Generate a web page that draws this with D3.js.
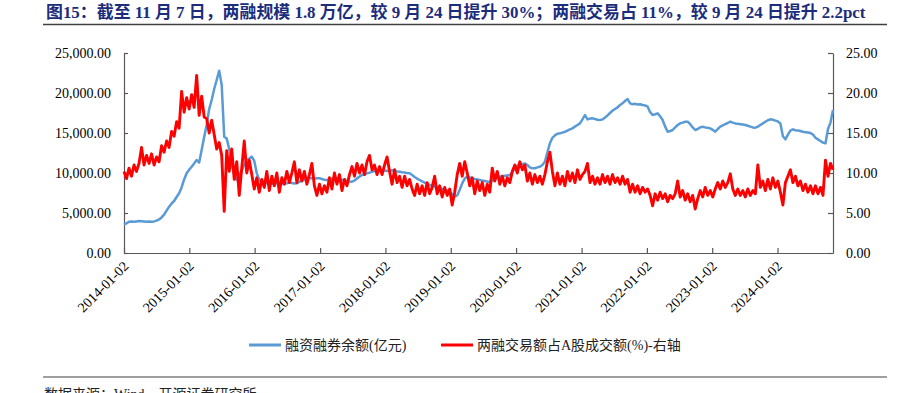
<!DOCTYPE html>
<html><head><meta charset="utf-8">
<script src="https://cdn.jsdelivr.net/npm/d3@7"></script>
<style>body{margin:0;background:#fff} svg{display:block}</style>
</head><body><svg id="c" width="899" height="393"></svg>
<script>
const titleText = "图15：截至 11 月 7 日，两融规模 1.8 万亿，较 9 月 24 日提升 30%；两融交易占 11%，较 9 月 24 日提升 2.2pct";
const sourceText = "数据来源：Wind、开源证券研究所";
const seriesNames = ["融资融券余额(亿元)", "两融交易额占A股成交额(%)-右轴"];
const startDate = "2014-01-02";
const endDate = "2024-11-07";
const stepDays = 14;
const xTickLabels = ["2014-01-02","2015-01-02","2016-01-02","2017-01-02","2018-01-02","2019-01-02","2020-01-02","2021-01-02","2022-01-02","2023-01-02","2024-01-02"];
const leftTicks = [0,5000,10000,15000,20000,25000];
const rightTicks = [0,5,10,15,20,25];

// 融资融券余额(亿元), one value every 14 days from startDate
const marginBalance = [3590,3700,3900,3950,3900,3950,4000,3980,3950,3920,
 3950,3910,3950,4050,4200,4450,4800,5300,5790,6200,
 6500,7000,7460,8200,9200,9960,10400,10790,11200,11625,
 11300,12875,14500,16000,18000,19125,20500,21625,22790,21000,
 14540,14300,13000,11000,9800,9125,9700,10375,11000,11625,
 11800,12040,11500,9960,9125,8900,8800,8700,8710,8650,
 8700,8750,8700,8650,8700,8710,8800,8750,8700,8710,
 8900,9050,9200,9300,9340,9350,9300,9350,9340,9250,
 9150,9125,9200,9300,9350,9340,9250,9150,9050,9000,
 8950,8920,9050,9300,9550,9750,9850,9950,10050,10160,
 10250,10300,10300,10350,10300,10250,10300,10350,10300,10200,
 10160,10100,10050,10000,9960,9750,9500,9300,9125,8950,
 8800,8650,8500,8400,8300,8200,8100,8000,7900,7800,
 7600,7400,7100,7200,7900,8700,9300,9540,9450,9330,
 9250,9200,9125,9050,9000,8950,8920,9050,9200,9400,
 9540,9600,9650,9700,9750,10100,10600,10900,11000,11100,
 11200,11000,10700,10580,10600,10700,10790,11000,11400,12600,
 13710,14400,14700,14900,14960,15050,15150,15300,15450,15580,
 15800,16000,16200,16700,17250,16700,16800,16830,16750,16650,
 16625,16700,16950,17200,17500,17800,18000,18200,18500,18710,
 19000,19250,18700,18600,18650,18550,18600,18500,18450,18300,
 17600,17250,17350,17460,17100,16625,15800,15160,15250,15375,
 15700,16000,16200,16300,16400,16410,16100,15700,15375,15500,
 15700,15790,15700,15650,15580,15400,15160,15500,15790,15950,
 16100,16250,16410,16300,16200,16150,16100,16050,16000,15900,
 15800,15700,15660,15800,16000,16200,16400,16600,16710,16650,
 16550,16450,16200,14600,14210,14800,15300,15460,15350,15300,
 15250,15150,15100,15050,15000,14800,14400,14200,14000,13800,
 13710,15500,16300,17875];

// 两融交易额占A股成交额(%), same dates
const tradeShare = [10.2,9.3,10.6,9.6,11.0,10.2,11.2,13.2,11.0,12.2,
 11.2,12.4,11.0,12.0,11.4,13.4,12.6,14.0,13.2,15.2,
 14.6,16.4,15.6,20.2,17.6,19.4,18.0,19.8,18.2,22.2,
 17.2,19.6,17.0,16.8,15.0,16.6,14.8,13.0,13.8,12.2,
 5.2,12.8,10.2,13.0,9.2,11.4,7.2,10.6,14.0,10.0,
 11.6,9.8,8.0,9.4,7.6,9.2,8.2,10.2,7.8,9.6,
 8.4,10.0,7.6,9.4,8.6,10.2,8.8,10.0,11.4,8.8,
 10.4,9.0,10.2,8.6,9.8,11.2,8.4,7.2,8.6,7.4,
 8.4,7.6,9.4,8.0,10.0,8.6,9.8,7.8,9.2,8.4,
 9.8,10.8,9.6,11.2,10.0,11.0,9.8,11.4,12.2,10.4,
 11.0,9.8,10.8,9.8,11.0,12.0,10.2,8.6,10.4,8.8,
 9.6,8.2,9.6,8.4,9.2,8.0,7.2,8.6,7.4,8.4,
 7.2,8.8,7.4,8.2,9.6,7.4,8.4,7.0,8.2,7.2,
 8.0,6.0,7.6,9.8,11.2,9.6,11.4,10.0,8.4,9.4,
 7.4,9.0,7.8,8.8,7.2,8.6,7.6,10.6,9.0,10.2,
 8.6,9.6,8.4,9.4,8.8,10.2,11.0,10.0,11.4,10.4,
 11.0,9.0,10.0,8.6,9.8,8.8,9.6,8.6,9.8,11.4,
 12.6,10.2,8.4,10.0,8.6,9.6,8.4,10.2,9.0,10.0,
 8.8,10.4,9.2,9.8,10.2,11.2,8.8,9.6,8.6,9.4,
 8.6,9.8,8.8,9.6,8.6,9.8,8.8,9.4,8.6,9.6,
 8.6,9.2,7.6,8.6,7.6,8.4,7.4,8.2,7.6,8.0,
 7.2,5.9,7.4,6.6,7.6,6.8,7.4,6.4,7.2,6.8,
 7.4,9.0,7.0,7.8,6.6,7.4,6.4,7.2,5.5,6.8,
 7.8,7.0,8.2,7.2,7.8,7.0,8.0,8.8,8.0,9.0,
 8.2,8.8,9.9,8.0,7.2,8.0,7.2,7.8,7.0,8.0,
 7.2,7.8,7.4,11.0,8.2,9.0,7.8,9.2,8.0,9.4,
 8.2,9.0,7.6,6.0,8.8,9.6,10.4,8.8,9.6,8.4,
 9.0,7.8,8.6,7.6,8.4,7.4,8.4,7.4,8.2,7.2,
 11.6,9.6,11.2,10.4];

const colors = ["#5B9BD5", "#FF0000"];
const serif = "'Liberation Serif','Times New Roman','Noto Sans CJK SC',serif";

const svg = d3.select("#c");
const parse = d3.utcParse("%Y-%m-%d");
const t0 = parse(startDate), t1 = parse(endDate);
const dates = marginBalance.map((_, i) => d3.utcDay.offset(t0, i * stepDays));

const L = 124, R = 833, T = 53, B = 253;
const x = d3.scaleUtc().domain([t0, t1]).range([L, R]);
const yL = d3.scaleLinear().domain([0, 25000]).range([B, T]);
const yR = d3.scaleLinear().domain([0, 25]).range([B, T]);

// title
const title = svg.append("text").attr("x", 46).attr("y", 18)
  .attr("font-family", serif).attr("font-weight", "bold").attr("font-size", 15)
  .attr("fill", "#1c2d7c").text(titleText);
const tw = title.node().getComputedTextLength();
title.attr("font-size", 15 * 820 / tw);
svg.append("line").attr("x1", 43).attr("x2", 887).attr("y1", 24.5).attr("y2", 24.5)
  .attr("stroke", "#404040").attr("stroke-width", 1.5);

// axes
function styleAxis(g) {
  g.selectAll("path.domain").attr("stroke", "#595959").attr("stroke-width", 1.2);
  g.selectAll(".tick line").attr("stroke", "#595959").attr("stroke-width", 1.2);
  g.selectAll("text").attr("font-family", serif).attr("font-size", 14).attr("fill", "#000");
}
const gl = svg.append("g").attr("transform", `translate(${L},0)`)
  .call(d3.axisLeft(yL).tickValues(leftTicks).tickSize(-4).tickSizeOuter(0).tickPadding(13).tickFormat(d3.format(",.2f")));
styleAxis(gl);
const gr = svg.append("g").attr("transform", `translate(${R},0)`)
  .call(d3.axisRight(yR).tickValues(rightTicks).tickSize(-5).tickSizeOuter(0).tickPadding(13).tickFormat(d3.format(".2f")));
styleAxis(gr);
const gb = svg.append("g").attr("transform", `translate(0,${B})`)
  .call(d3.axisBottom(x).tickValues(xTickLabels.map(parse)).tickSize(-5).tickSizeOuter(0).tickFormat(d3.utcFormat("%Y-%m-%d")));
styleAxis(gb);
gb.selectAll(".tick text").attr("x", 0).attr("y", 0).attr("dy", 0)
  .attr("text-anchor", "end").attr("transform", "translate(5,14) rotate(-45)");

// lines
const lineL = d3.line().x((d, i) => x(dates[i])).y(d => yL(d));
const lineR = d3.line().x((d, i) => x(dates[i])).y(d => yR(d));
svg.append("path").datum(marginBalance).attr("d", lineL).attr("fill", "none")
  .attr("stroke", colors[0]).attr("stroke-width", 2.5).attr("stroke-linejoin", "round");
svg.append("path").datum(tradeShare).attr("d", lineR).attr("fill", "none")
  .attr("stroke", colors[1]).attr("stroke-width", 2.9).attr("stroke-linejoin", "round");

// legend
const legX = [249, 441];
seriesNames.forEach((n, k) => {
  svg.append("line").attr("x1", legX[k]).attr("x2", legX[k] + 32).attr("y1", 345).attr("y2", 345)
    .attr("stroke", colors[k]).attr("stroke-width", 3);
  svg.append("text").attr("x", legX[k] + 36).attr("y", 350).attr("font-family", serif)
    .attr("font-size", 14).attr("fill", "#222").text(n);
});

// source
svg.append("line").attr("x1", 43).attr("x2", 887).attr("y1", 377).attr("y2", 377)
  .attr("stroke", "#404040").attr("stroke-width", 1.2);
svg.append("text").attr("x", 44).attr("y", 399).attr("font-family", serif)
  .attr("font-size", 14).attr("fill", "#222").text(sourceText);
</script></body></html>
